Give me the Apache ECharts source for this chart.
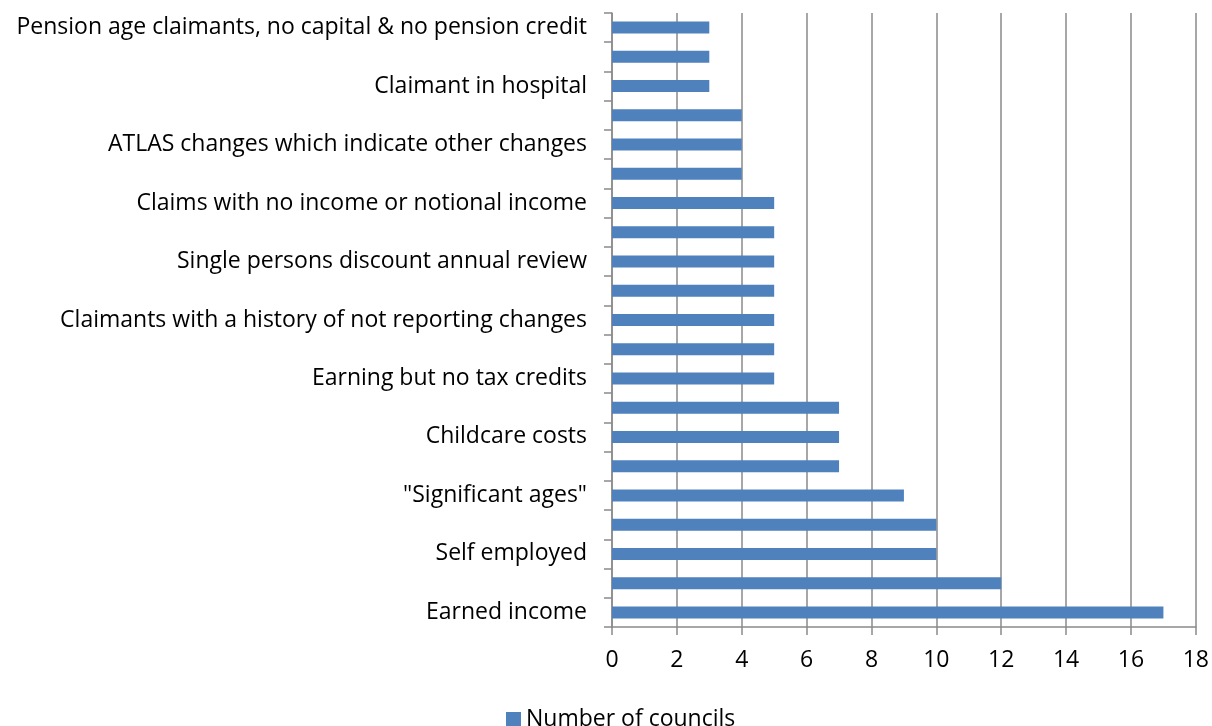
<!DOCTYPE html>
<html>
<head>
<meta charset="utf-8">
<script src="https://cdn.jsdelivr.net/npm/echarts@6/dist/echarts.min.js"></script>
<style>
  html, body { margin: 0; padding: 0; background: #fff; }
  #chart { width: 1212px; height: 726px; }
</style>
</head>
<body>
<div id="chart"></div>
<script>
// categories from bottom to top; every other label is not shown in the original
var categories = [
  'Earned income', '',
  'Self employed', '',
  '"Significant ages"', '',
  'Childcare costs', '',
  'Earning but no tax credits', '',
  'Claimants with a history of not reporting changes', '',
  'Single persons discount annual review', '',
  'Claims with no income or notional income', '',
  'ATLAS changes which indicate other changes', '',
  'Claimant in hospital', '',
  'Pension age claimants, no capital & no pension credit'
];
var councils = [17, 12, 10, 10, 9, 7, 7, 7, 5, 5, 5, 5, 5, 5, 5, 4, 4, 4, 3, 3, 3];
var seriesName = 'Number of councils';

var gray = '#8a8a8a';
var font = 'Open Sans';
var chart = echarts.init(document.getElementById('chart'));
chart.setOption({
  animation: false,
  textStyle: { fontFamily: font, color: '#000' },
  grid: { left: 612, right: 15, top: 13, bottom: 99 },
  legend: {
    left: 501, top: 703,
    itemWidth: 15, itemHeight: 15, itemGap: 6,
    icon: 'rect',
    textStyle: { fontFamily: font, fontSize: 23, color: '#000' },
    data: [seriesName]
  },
  xAxis: {
    type: 'value',
    min: 0, max: 18, interval: 2,
    axisLine: { show: true, lineStyle: { color: gray, width: 1.5 } },
    axisTick: { show: true, length: 8, lineStyle: { color: gray, width: 1.5 } },
    axisLabel: { fontSize: 23, color: '#000', margin: 22, fontFamily: font },
    splitLine: { show: true, lineStyle: { color: gray, width: 1.5 } }
  },
  yAxis: {
    type: 'category',
    data: categories,
    axisLine: { show: true, lineStyle: { color: gray, width: 1.5 } },
    axisTick: { show: true, length: 8, interval: 0, lineStyle: { color: gray, width: 1.5 } },
    axisLabel: { fontSize: 23, color: '#000', margin: 25, interval: 0, fontFamily: font },
    splitLine: { show: false }
  },
  series: [{
    name: seriesName,
    type: 'bar',
    barWidth: 12,
    itemStyle: { color: '#4F81BD' },
    data: councils
  }]
});
</script>
</body>
</html>
